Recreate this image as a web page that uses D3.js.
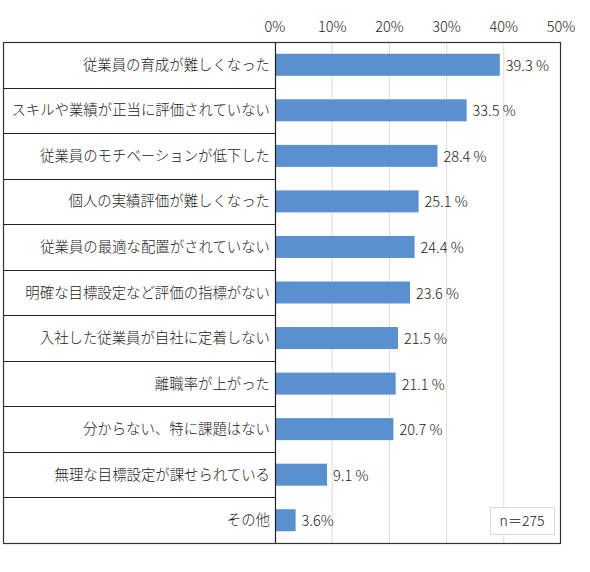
<!DOCTYPE html>
<html><head><meta charset="utf-8">
<script src="https://cdn.jsdelivr.net/npm/d3@7"></script>
<style>body{margin:0;background:#fff}</style>
</head><body>
<svg id="c" width="590" height="572"></svg>
<script>
const categories = ["従業員の育成が難しくなった","スキルや業績が正当に評価されていない","従業員のモチベーションが低下した","個人の実績評価が難しくなった","従業員の最適な配置がされていない","明確な目標設定など評価の指標がない","入社した従業員が自社に定着しない","離職率が上がった","分からない、特に課題はない","無理な目標設定が課せられている","その他"];
const values = [39.3,33.5,28.4,25.1,24.4,23.6,21.5,21.1,20.7,9.1,3.6];
const valueLabels = ["39.3 %","33.5 %","28.4 %","25.1 %","24.4 %","23.6 %","21.5 %","21.1 %","20.7 %","9.1 %","3.6%"];
const ticks = [0,10,20,30,40,50];
const tickLabels = ["0%","10%","20%","30%","40%","50%"];
const note = "n＝275";

(function(){
const svg = d3.select("#c");
const left = 3, x0 = 275, x1 = 561, yTop = 42, yBot = 543;
const x = d3.scaleLinear().domain([0,50]).range([x0,x1]);
const y = d3.scaleBand().domain(categories).range([yTop,yBot]).paddingInner(0).paddingOuter(0);
const bh = 22;
const numFont = "'Noto Sans CJK JP',sans-serif";

svg.append("g").selectAll("line").data(ticks.slice(1,-1)).join("line")
  .attr("x1",d=>x(d)).attr("x2",d=>x(d)).attr("y1",yTop).attr("y2",yBot)
  .attr("stroke","#dcdcdc").attr("stroke-width",1);

svg.append("g").selectAll("text").data(ticks).join("text")
  .attr("x",d=>x(d)).attr("y",32).attr("text-anchor","middle")
  .attr("font-family",numFont).attr("font-size",14.5).attr("font-weight",300).attr("fill","#222")
  .text((d,i)=>tickLabels[i]);

svg.append("g").selectAll("line").data(categories.slice(1)).join("line")
  .attr("x1",left).attr("x2",x0).attr("y1",d=>Math.round(y(d))+0.5).attr("y2",d=>Math.round(y(d))+0.5)
  .attr("stroke","#222").attr("stroke-width",1);

svg.append("g").selectAll("rect").data(values).join("rect")
  .attr("x",x(0)).attr("y",(d,i)=>y(categories[i])+y.bandwidth()/2-bh/2)
  .attr("width",d=>x(d)-x(0)).attr("height",bh).attr("fill","#5a8fd0");

svg.append("g").selectAll("text").data(values).join("text")
  .attr("x",d=>x(d)+6).attr("y",(d,i)=>y(categories[i])+y.bandwidth()/2+6)
  .attr("font-family",numFont).attr("font-size",14.5).attr("font-weight",300).attr("fill","#222")
  .text((d,i)=>valueLabels[i]);

svg.append("g").selectAll("text").data(categories).join("text")
  .attr("x",270).attr("y",d=>y(d)+y.bandwidth()/2+5)
  .attr("text-anchor","end")
  .attr("font-family","'Noto Sans CJK JP',sans-serif").attr("font-size",14.4).attr("font-weight",300).attr("fill","#222")
  .text(d=>d);

svg.append("rect").attr("x",left+0.5).attr("y",yTop+0.5).attr("width",x1-left-1).attr("height",yBot-yTop)
  .attr("fill","none").attr("stroke","#333").attr("stroke-width",1.2);
svg.append("line").attr("x1",x0+0.5).attr("x2",x0+0.5).attr("y1",yTop).attr("y2",yBot)
  .attr("stroke","#222").attr("stroke-width",1.2);

const nb = svg.append("g");
nb.append("rect").attr("x",490.5).attr("y",507.5).attr("width",64).attr("height",27)
  .attr("fill","#fff").attr("stroke","#d9d9d9");
nb.append("text").attr("x",522).attr("y",526).attr("text-anchor","middle")
  .attr("font-family","'Noto Sans CJK JP',sans-serif").attr("font-size",14).attr("font-weight",300).attr("fill","#222").text(note);
})();
</script>
</body></html>
